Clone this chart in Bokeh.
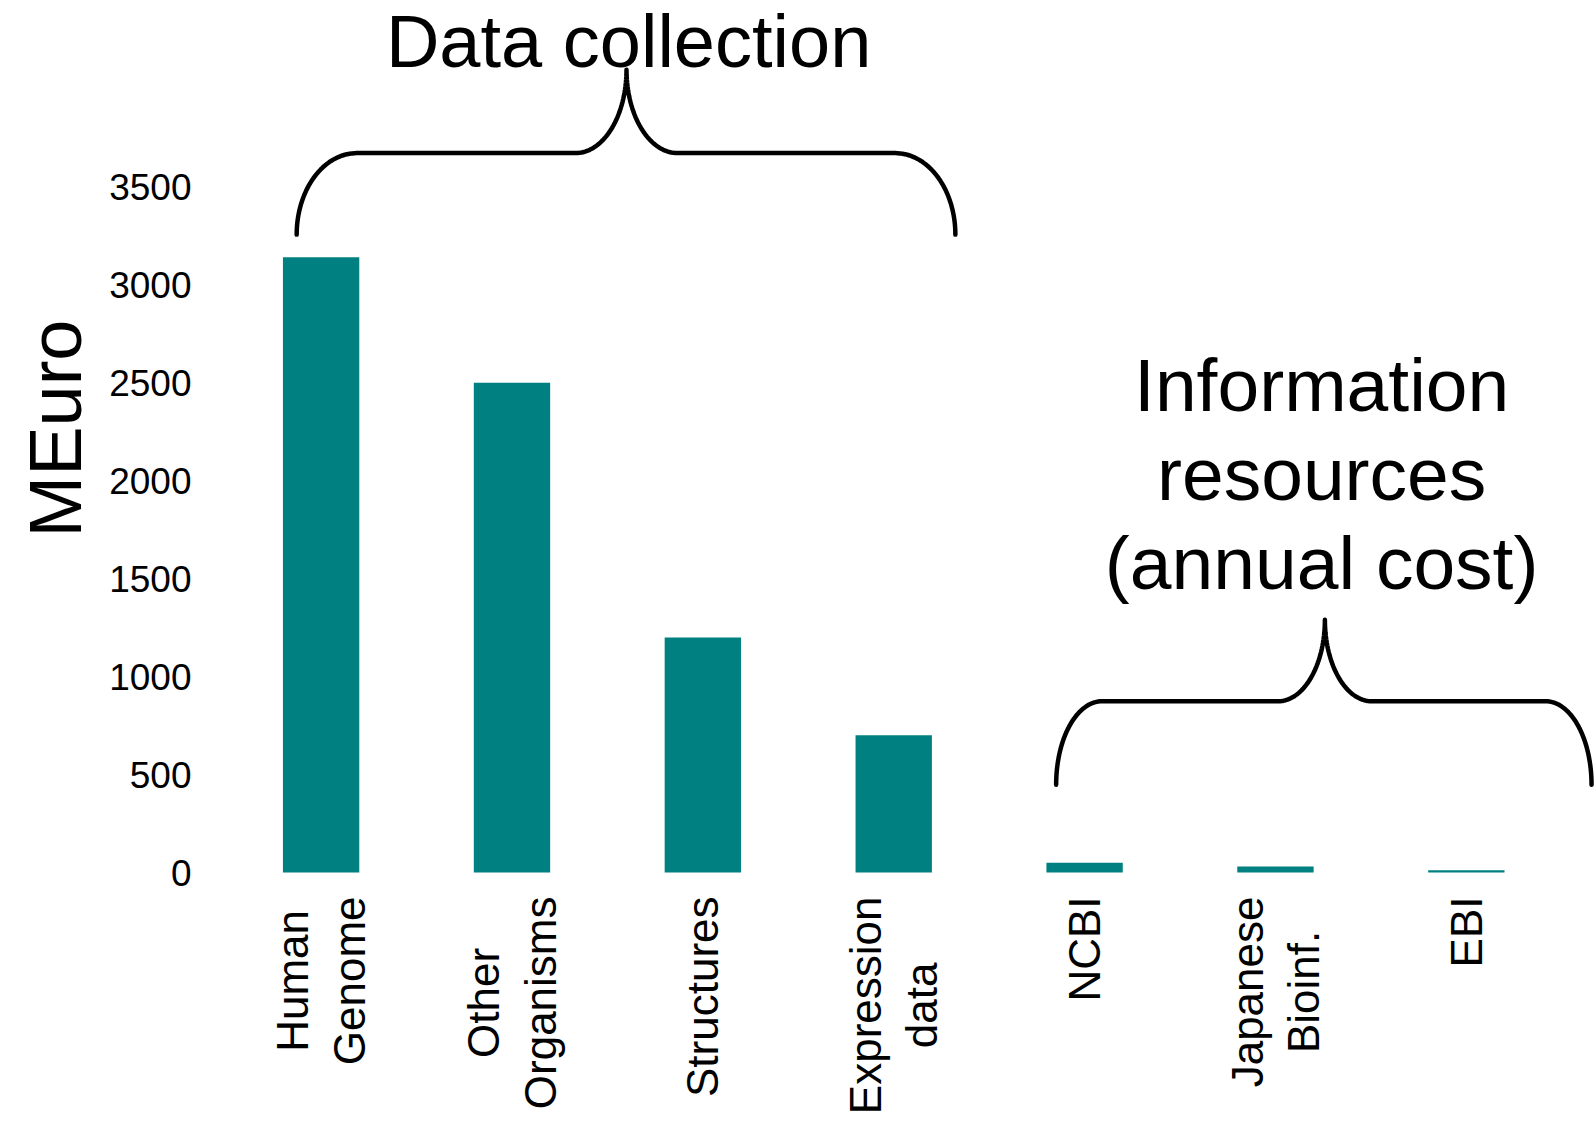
import numpy as np
from bokeh.plotting import figure
from bokeh.models import Range1d, FixedTicker, ColumnDataSource, Title
from bokeh.core.properties import value
from bokeh.embed import file_html
from bokeh.resources import INLINE

# ---- data ----
categories = ["Human\nGenome", "Other\nOrganisms", "Structures", "Expression\ndata",
              "NCBI", "Japanese\nBioinf.", "EBI"]
costs_meuro = [3140, 2500, 1200, 700, 50, 30, 12]
y_ticks = [0, 500, 1000, 1500, 2000, 2500, 3000, 3500]
y_label = "MEuro"
group_titles = ["Data collection", "Information", "resources", "(annual cost)"]

TEAL = "#008080"
FONT = "Liberation Sans"

xpos = list(range(len(categories)))

PX_PER_UNIT = 0.19591          # vertical scale (pixels per MEuro)
BASE_PX = 872                  # pixel row of the zero line
CANVAS_H = 1122
y_start = -(CANVAS_H - BASE_PX) / PX_PER_UNIT
y_end = BASE_PX / PX_PER_UNIT
X_START, X_END = -0.6476, 6.682
FRAME_LEFT = 197

p = figure(width=1596, height=CANVAS_H, output_backend="svg", toolbar_location=None,
           x_range=Range1d(X_START, X_END), y_range=Range1d(y_start, y_end),
           min_border_left=FRAME_LEFT, min_border_right=0, min_border_top=0,
           min_border_bottom=0)
p.outline_line_color = None
p.xgrid.visible = False
p.ygrid.visible = False
p.background_fill_color = "white"
p.border_fill_color = "white"
p.xaxis.visible = False

p.vbar(x=xpos, top=costs_meuro, width=0.4, color=TEAL, line_color=None)

# y axis
ya = p.yaxis[0]
ya.ticker = FixedTicker(ticks=y_ticks)
ya.axis_line_color = None
ya.major_tick_line_color = None
ya.minor_tick_line_color = None
ya.major_tick_out = 0
ya.major_tick_in = 0
ya.major_label_standoff = 6
ya.major_label_text_font = FONT
ya.major_label_text_font_size = "37px"
ya.major_label_text_color = "black"

# y axis title (as a side title so it can sit on the upper part of the chart)
ytitle = Title(text=y_label, align="left", offset=585, text_font=FONT,
               text_font_size="74px", text_font_style="normal", text_color="black",
               standoff=20)
p.add_layout(ytitle, "left")

# category labels (vertical, lines centred, top end just under the zero line)
label_y = -24 / PX_PER_UNIT
lab_src = ColumnDataSource(dict(x=xpos, y=[label_y] * len(xpos), t=categories))
p.text(x="x", y="y", text="t", source=lab_src, angle=np.pi / 2,
       text_font=value(FONT), text_font_size="44px", text_color="black",
       text_align="center", text_baseline="middle", anchor="center_right",
       text_line_height=1.15)


# ---- braces (annotation geometry, in data units) ----
def brace(x_left, x_right, x_cusp, y_end_, y_mid, y_cusp, rx_o, rx_i, n=40):
    t = np.linspace(0, np.pi / 2, n)
    lx1 = (x_left + rx_o) - rx_o * np.cos(t)
    ly1 = y_end_ + (y_mid - y_end_) * np.sin(t)
    lx2 = (x_cusp - rx_i) + rx_i * np.sin(t)
    ly2 = y_cusp - (y_cusp - y_mid) * np.cos(t)
    rx2 = (x_cusp + rx_i) - rx_i * np.sin(t[::-1])
    ry2 = y_cusp - (y_cusp - y_mid) * np.cos(t[::-1])
    rx1 = (x_right - rx_o) + rx_o * np.cos(t[::-1])
    ry1 = y_end_ + (y_mid - y_end_) * np.sin(t[::-1])
    xs = np.concatenate([lx1, lx2, rx2, rx1])
    ys = np.concatenate([ly1, ly2, ry2, ry1])
    return xs, ys


bx, by = brace(-0.128, 3.323, 1.600, 3256, 3672, 4098, 0.315, 0.267)
p.line(bx, by, line_color="black", line_width=4.5, line_join="round", line_cap="round")
bx2, by2 = brace(3.851, 6.656, 5.259, 448, 874, 1290, 0.24, 0.245)
p.line(bx2, by2, line_color="black", line_width=4.5, line_join="round", line_cap="round")

# ---- group titles ----
src = ColumnDataSource(dict(x=[1.611, 5.242, 5.242, 5.242],
                            y=[4240, 2488, 2035, 1578],
                            t=group_titles,
                            fs=["74px", "75px", "75px", "75px"]))
p.text(x="x", y="y", text="t", source=src, text_font=value(FONT),
       text_font_size="fs", text_align="center",
       text_baseline="alphabetic", text_color="black")

open("out.html", "w").write(file_html(p, INLINE))
